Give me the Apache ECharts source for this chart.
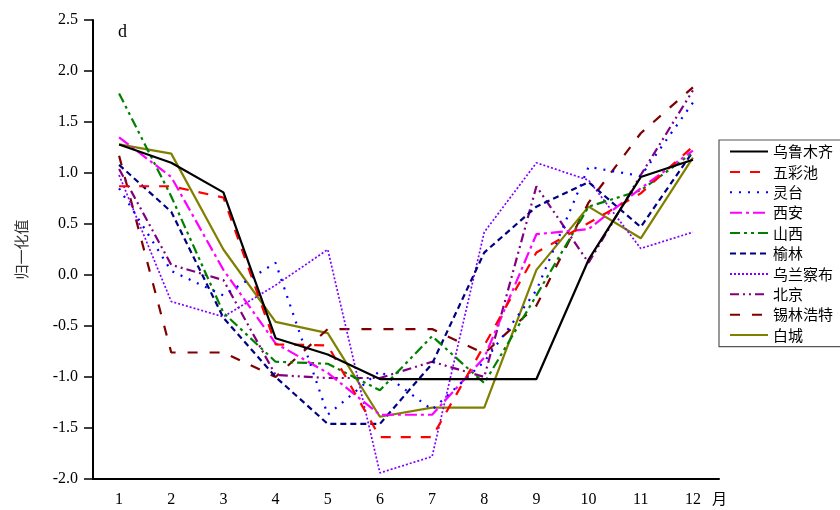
<!DOCTYPE html>
<html>
<head>
<meta charset="utf-8">
<script src="https://cdn.jsdelivr.net/npm/echarts@6/dist/echarts.min.js"></script>
<style>html,body{margin:0;padding:0;background:#fff}#c{width:840px;height:510px}</style>
</head>
<body>
<div id="c"></div>
<script>
const months = ['1','2','3','4','5','6','7','8','9','10','11','12'];
const yTicks = { min: -2.0, max: 2.5, interval: 0.5 };
const names = ['乌鲁木齐','五彩池','灵台','西安','山西','榆林','乌兰察布','北京','锡林浩特','白城'];

const wulumuqi   = [1.28, 1.10, 0.81, -0.62, -0.78, -1.02, -1.02, -1.02, -1.02, 0.15, 0.96, 1.13];
const wucaichi   = [0.87, 0.87, 0.76, -0.68, -0.69, -1.59, -1.59, -0.69, 0.22, 0.51, 0.80, 1.26];
const lingtai    = [0.85, 0.04, -0.20, 0.12, -1.37, -0.94, -1.32, -0.85, -0.15, 1.06, 0.97, 1.69];
const xian       = [1.35, 0.96, 0.05, -0.67, -0.96, -1.37, -1.37, -0.81, 0.40, 0.45, 0.85, 1.22];
const shanxi     = [1.78, 0.77, -0.37, -0.85, -0.87, -1.13, -0.60, -1.06, -0.20, 0.67, 0.83, 1.20];
const yulin      = [1.08, 0.62, -0.42, -1.00, -1.46, -1.46, -0.87, 0.22, 0.67, 0.91, 0.47, 1.21];
const wulanchabu = [0.98, -0.26, -0.41, -0.10, 0.25, -1.94, -1.78, 0.42, 1.10, 0.93, 0.26, 0.42];
const beijing    = [1.04, 0.10, -0.05, -0.98, -1.01, -1.01, -0.85, -1.00, 0.87, 0.12, 0.98, 1.81];
const xilinhaote = [1.17, -0.76, -0.76, -1.00, -0.53, -0.53, -0.53, -0.77, -0.30, 0.71, 1.39, 1.84];
const baicheng   = [1.28, 1.19, 0.25, -0.46, -0.57, -1.39, -1.30, -1.30, 0.05, 0.67, 0.36, 1.15];

const seriesData = [wulumuqi, wucaichi, lingtai, xian, shanxi, yulin, wulanchabu, beijing, xilinhaote, baicheng];
const colors = ['#000000','#ff0000','#0000ff','#ff00ff','#008000','#000080','#8000ff','#800080','#800000','#808000'];
const dashes = ['solid',[10,10],[2,7],[12,4,3,4],[10,4,3,4,3,4],[6,4],[2,2],[9,4,2,4,2,4],[10,12],'solid'];
const widths = [2.2,2.2,2.2,2.2,2.2,2.2,1.7,2.2,2.2,2.2];

const chart = echarts.init(document.getElementById('c'), null, {renderer:'canvas'});
const serif = 'Liberation Serif, Times New Roman, serif';
chart.setOption({
  animation: false,
  backgroundColor: '#fff',
  grid: { left: 93, top: 20, right: 121, bottom: 31 },
  legend: {
    orient: 'vertical', left: 719, top: 140,
    padding: [4, 40, 4, 10],
    itemWidth: 38, itemHeight: 14, itemGap: 5.4,
    borderColor: '#555', borderWidth: 1.2,
    itemStyle: { opacity: 0 },
    textStyle: { fontFamily: 'Noto Sans CJK SC', fontSize: 15, color: '#000', lineHeight: 14 },
    data: names
  },
  xAxis: {
    type: 'category', data: months, boundaryGap: true,
    axisLine: { onZero: false, lineStyle: { color: '#000', width: 2 } },
    axisTick: { alignWithLabel: true, length: 8, lineStyle: { color: '#000', width: 1.5 } },
    axisLabel: { color: '#000', fontFamily: serif, fontSize: 16, margin: 13 },
    splitLine: { show: false }
  },
  yAxis: {
    type: 'value', min: yTicks.min, max: yTicks.max, interval: yTicks.interval,
    name: '归一化值', nameLocation: 'middle', nameGap: 64, nameRotate: 90,
    nameTextStyle: { fontFamily: 'Noto Sans CJK SC', fontSize: 15, color: '#333' },
    axisLine: { show: true, lineStyle: { color: '#000', width: 2 } },
    axisTick: { show: true, length: 9, lineStyle: { color: '#000', width: 1.5 } },
    axisLabel: { color: '#000', fontFamily: serif, fontSize: 16, margin: 15, formatter: v => v.toFixed(1) },
    splitLine: { show: false }
  },
  graphic: [
    { type: 'text', left: 118, top: 23, style: { text: 'd', font: '18px ' + serif, fill: '#000' } },
    { type: 'text', left: 712, top: 491, style: { text: '月', font: '15px Noto Sans CJK SC', fill: '#000' } }
  ],
  series: names.map((n, i) => ({
    name: n, type: 'line', data: seriesData[i], symbol: 'none',
    lineStyle: { color: colors[i], width: widths[i], type: dashes[i] },
    itemStyle: { color: colors[i] },
    z: 10 - i
  }))
});
</script>
</body>
</html>
